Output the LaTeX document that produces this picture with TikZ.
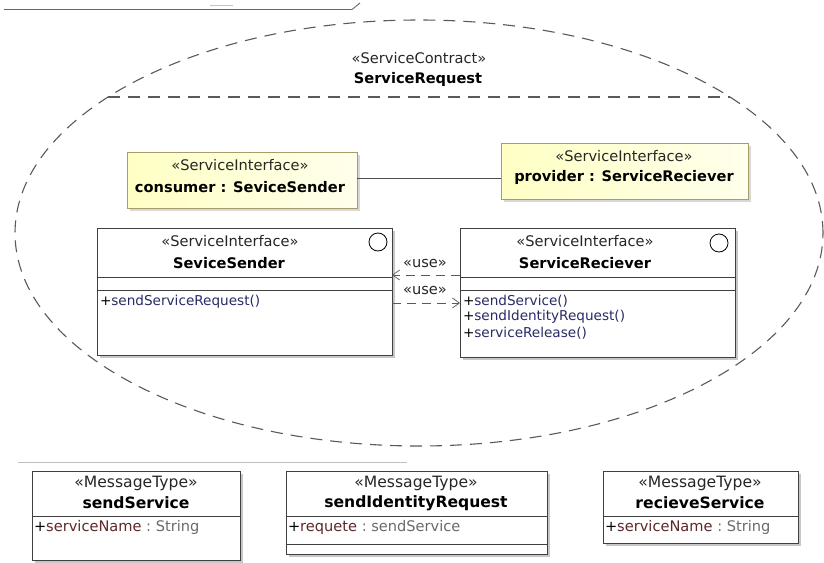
\documentclass[tikz,border=0pt]{standalone}
\usepackage{fontspec}
\setmainfont{DejaVu Sans}
\usetikzlibrary{shadows,arrows.meta,shapes.geometric}

\definecolor{edge}{HTML}{404040}
\definecolor{dashgray}{HTML}{5A5A5A}
\definecolor{partedge}{HTML}{A89C6A}
\definecolor{partfillL}{HTML}{FFFFC4}
\definecolor{partfillR}{HTML}{FFFFEC}
\definecolor{optext}{HTML}{2A2A66}
\definecolor{attrtext}{HTML}{5E2828}
\definecolor{typetext}{HTML}{6A6A6A}

\tikzset{
  every node/.style={inner sep=0pt, outer sep=0pt, font=\fontsize{14.6}{17}\selectfont},
  stereo/.style={text=black!85},
  bname/.style={font=\fontsize{14.6}{17}\selectfont\bfseries},
  member/.style={anchor=west, font=\fontsize{13.6}{16}\selectfont},
  msgstereo/.style={text=black!85, font=\fontsize{15.6}{18}\selectfont},
  msgname/.style={font=\fontsize{15.6}{18}\selectfont\bfseries},
  msgmember/.style={anchor=west, font=\fontsize{14.6}{17}\selectfont},
  umlbox/.style={rectangle, anchor=north west, draw=edge, line width=0.9pt, fill=white,
    drop shadow={shadow xshift=2.5pt, shadow yshift=-2.5pt, fill=black!40, opacity=0.55}},
  partbox/.style={rectangle, anchor=north west, draw=partedge, line width=0.9pt,
    left color=partfillL, right color=partfillR,
    drop shadow={shadow xshift=2.5pt, shadow yshift=-2.5pt, fill=black!30, opacity=0.5}},
  sep/.style={draw=edge, line width=0.9pt},
  dep/.style={draw=dashgray, line width=0.7pt, dash pattern=on 9pt off 6pt,
    -{Straight Barb[length=7pt,width=10pt,line width=0.7pt]}},
  iface/.style={circle, draw=black, line width=0.8pt, minimum size=18pt},
  collabline/.style={draw=dashgray, line width=1.1pt, dash pattern=on 12pt off 8pt},
}

\begin{document}
\begin{tikzpicture}[x=1pt, y=-1pt]
\useasboundingbox (0,0) rectangle (824,562);
\fill[white] (0,0) rectangle (824,562);

% frame edge at the top left
\draw[draw=black!60, line width=0.9pt] (4,9.5) -- (352,9.5) -- (360,3);
\draw[draw=partedge!60, line width=0.8pt] (210,5) -- (233,5);

% collaboration ellipse and its name compartment
\node[ellipse, collabline, minimum width=808pt, minimum height=426pt] (collab) at (419,233) {};
\draw[collabline] (108,97) -- (730,97);
\node[stereo] (cstereo) at (419,58) {«ServiceContract»};
\node[bname] (cname) at (418,79) {ServiceRequest};

% parts
\node[partbox, minimum width=230pt, minimum height=56pt] (consumer) at (127,152) {};
\node[stereo] at (240,165) {«ServiceInterface»};
\node[bname] at (240,187) {consumer : SeviceSender};

\node[partbox, minimum width=247pt, minimum height=56pt] (provider) at (501,143) {};
\node[stereo] at (624,156) {«ServiceInterface»};
\node[bname] at (624,177) {provider : ServiceReciever};

\coordinate (conn) at (0,178);
\draw[draw=black!70, line width=0.8pt] (consumer.east |- conn) -- (provider.west |- conn);

% interface classes
\node[umlbox, minimum width=295pt, minimum height=127pt] (sender) at (97,228) {};
\node[stereo] at (230,241) {«ServiceInterface»};
\node[bname] at (229,263) {SeviceSender};
\node[iface] (senderball) at (378,242) {};
\draw[sep] (sender.west |- 0,277) -- (sender.east |- 0,277);
\draw[sep] (sender.west |- 0,290) -- (sender.east |- 0,290);
\node[member] at (100,302) {+\textcolor{optext}{sendServiceRequest()}};

\node[umlbox, minimum width=275pt, minimum height=129pt] (recv) at (460,228) {};
\node[stereo] at (585,241) {«ServiceInterface»};
\node[bname] at (585,263) {ServiceReciever};
\node[iface] (recvball) at (719,243) {};
\draw[sep] (recv.west |- 0,277) -- (recv.east |- 0,277);
\draw[sep] (recv.west |- 0,290) -- (recv.east |- 0,290);
\node[member] at (463,301) {+\textcolor{optext}{sendService()}};
\node[member] at (463,317) {+\textcolor{optext}{sendIdentityRequest()}};
\node[member] at (463,333) {+\textcolor{optext}{serviceRelease()}};

% usage dependencies
\coordinate (useA) at (0,275);
\coordinate (useB) at (0,303);
\draw[dep] (recv.west |- useA) -- (sender.east |- useA);
\draw[dep] (sender.east |- useB) -- (recv.west |- useB);
\node[stereo] (useAlbl) at (425,264) {«use»};
\node[stereo] (useBlbl) at (425,291) {«use»};

% separator above the message types
\draw[draw=black!25, line width=0.8pt] (18,462) -- (407,462);

% message types
\node[umlbox, minimum width=208pt, minimum height=89pt] (msgA) at (32,471) {};
\node[msgstereo] at (136,483) {«MessageType»};
\node[msgname] at (136,503) {sendService};
\draw[sep] (msgA.west |- 0,516) -- (msgA.east |- 0,516);
\node[msgmember] at (34,527) {+\textcolor{attrtext}{serviceName}\textcolor{typetext}{\ :\ String}};

\node[umlbox, minimum width=261pt, minimum height=83pt] (msgB) at (286,471) {};
\node[msgstereo] at (416,483) {«MessageType»};
\node[msgname] at (416,503) {sendIdentityRequest};
\draw[sep] (msgB.west |- 0,516) -- (msgB.east |- 0,516);
\draw[sep] (msgB.west |- 0,544) -- (msgB.east |- 0,544);
\node[msgmember] at (288,527) {+\textcolor{attrtext}{requete}\textcolor{typetext}{\ :\ sendService}};

\node[umlbox, minimum width=195pt, minimum height=72pt] (msgC) at (603,471) {};
\node[msgstereo] at (700,483) {«MessageType»};
\node[msgname] at (700,503) {recieveService};
\draw[sep] (msgC.west |- 0,516) -- (msgC.east |- 0,516);
\node[msgmember] at (605,527) {+\textcolor{attrtext}{serviceName}\textcolor{typetext}{\ :\ String}};
\end{tikzpicture}
\end{document}
